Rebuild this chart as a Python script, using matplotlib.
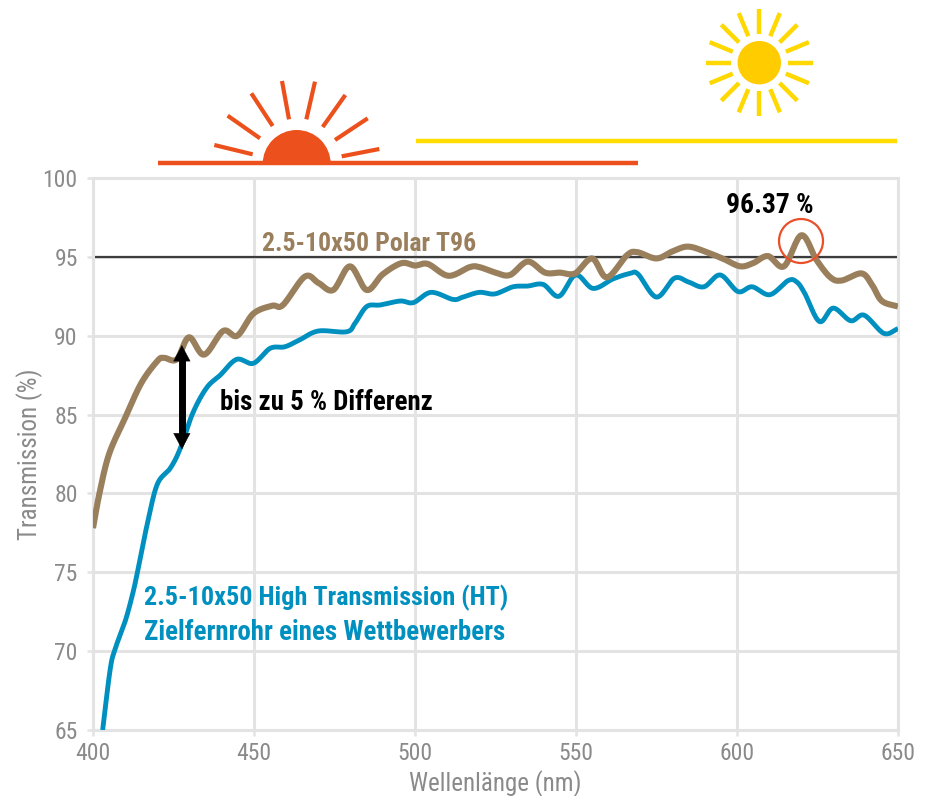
import numpy as np
import matplotlib
matplotlib.use("Agg")
import matplotlib.pyplot as plt
from matplotlib.patches import Circle, Wedge
from matplotlib import font_manager as fm

names = {f.name for f in fm.fontManager.ttflist}
FONT = next((n for n in ["Liberation Sans Narrow", "Roboto Condensed", "Open Sans Condensed", "Liberation Sans"] if n in names), "DejaVu Sans")
plt.rcParams["font.family"] = [FONT, "DejaVu Sans"]

polar_nm = [400,402,405,410,415,420,422,426,429.8,434.5,440.4,444.8,449.8,455.6,459,465.8,470,474.6,479.8,485,490,495.8,500,504,510.4,517,520,525,529.5,535,540.4,545,549.7,555,559.6,565.8,569,575,580,584.8,590.6,596,601,605,609.6,614.6,620,624.7,629,632.5,638.7,642,645,650]
polar_t = [77.8,80,82.5,84.8,87,88.4,88.6,88.5,89.9,88.8,90.3,90,91.4,91.9,91.95,93.75,93.35,92.9,94.4,92.9,93.9,94.6,94.45,94.55,93.8,94.35,94.35,94,93.85,94.7,94,94,93.95,94.9,93.7,95.1,95.3,94.9,95.35,95.65,95.3,94.85,94.4,94.6,95.05,94.4,96.37,94.8,93.7,93.5,93.95,93.2,92.2,91.85]

ht_nm = [403,405.3,406.8,410,412.4,414,417,420,424,427,431,435.3,439.5,444.6,449.8,455,459.6,464.3,470,478.8,481.4,485,489.2,495.4,499.5,505,511.8,514.9,520,524.8,530.4,535,539.8,544.7,549.9,555.3,561.5,566.8,569.3,575,580.6,585,589.7,594.8,600.3,604.7,610.2,615.9,618.6,621,625.6,629.9,635.3,639.5,645.6,650]
ht_t = [65,68.8,70.1,71.9,73.7,75.2,78.2,80.6,81.6,82.8,85.1,86.7,87.5,88.5,88.25,89.2,89.3,89.75,90.3,90.25,90.8,91.85,91.95,92.2,92.1,92.75,92.3,92.45,92.75,92.65,93.1,93.15,93.25,92.5,93.85,93,93.6,93.95,93.9,92.45,93.65,93.4,93.1,93.85,92.8,93.1,92.6,93.5,93.4,92.7,90.9,91.75,90.95,91.3,90.15,90.45]

x_ticks = [400,450,500,550,600,650]
y_ticks = [65,70,75,80,85,90,95,100]
peak_label = "96.37 %"
ref_level = 95
gap_nm, gap_top, gap_bottom = 427.6, 89.4, 82.8

W, H = 928, 796
BROWN, BLUE, ORANGE, YEL, SUNC = "#9a7f5c", "#0090c0", "#ec501c", "#ffdd00", "#ffcc00"
GRID, TXT = "#e3e3e3", "#8a8a8a"


def smooth(x, y, n=16):
    """Rounded stroke through the read points (Catmull-Rom, for the line's look only)."""
    x, y = np.asarray(x, float), np.asarray(y, float)
    px = np.r_[2*x[0]-x[1], x, 2*x[-1]-x[-2]]
    py = np.r_[2*y[0]-y[1], y, 2*y[-1]-y[-2]]
    t = np.linspace(0, 1, n, endpoint=False)[:, None]
    def cr(p):
        a, b, c, d = p[:-3], p[1:-2], p[2:-1], p[3:]
        return (0.5*(2*b + (c-a)*t + (2*a-5*b+4*c-d)*t**2 + (3*b-a-3*c+d)*t**3)).T.ravel()
    return np.r_[cr(px), x[-1]], np.r_[cr(py), y[-1]]


fig = plt.figure(figsize=(W/100, H/100), dpi=100)
ax = fig.add_axes([93/W, 1-730/H, (898-93)/W, (730-178)/H])
ax.set_xlim(400, 650)
ax.set_ylim(65, 100)
ax.set_xticks(x_ticks)
ax.set_yticks(y_ticks)
ax.grid(True, color=GRID, lw=2.2, zorder=0)
ax.set_axisbelow(True)
for s in ax.spines.values():
    s.set_color(GRID)
    s.set_linewidth(2.2)
ax.tick_params(length=4, width=1.8, color=GRID, labelcolor=TXT, labelsize=17, pad=3)
ax.tick_params(axis="y", pad=7)
ax.tick_params(axis="x", pad=5)
ax.set_xlabel("Wellenlänge (nm)", color=TXT, fontsize=18, labelpad=3)
ax.set_ylabel("Transmission (%)", color=TXT, fontsize=18, labelpad=0)

ax.axhline(ref_level, color="#3c3c3c", lw=1.6, zorder=2)
ax.plot(*smooth(ht_nm, ht_t), color=BLUE, lw=3.5, zorder=3, solid_capstyle="butt")
ax.plot(*smooth(polar_nm, polar_t), color=BROWN, lw=4.4, zorder=4, solid_capstyle="butt")

# double arrow: shaft plus two slim heads
ax.plot([gap_nm, gap_nm], [gap_bottom+0.5, gap_top-0.5], color="black", lw=5.0, zorder=6, solid_capstyle="butt")
ax.annotate("", xy=(gap_nm, gap_top), xytext=(gap_nm, gap_bottom), zorder=6,
            arrowprops=dict(arrowstyle="<|-|>,head_length=0.62,head_width=0.33", color="black",
                            lw=0.3, shrinkA=0, shrinkB=0, mutation_scale=18))

bold = dict(fontweight="bold", va="baseline", ha="left", zorder=7)
ax.text(452.5, 95.4, "2.5-10x50 Polar T96", color=BROWN, fontsize=18.6, **bold)
ax.text(596.6, 97.8, peak_label, color="black", fontsize=19.8, **bold)
ax.text(439.4, 85.3, "bis zu 5 % Differenz", color="black", fontsize=19.4, **bold)
ax.text(415.9, 72.9, "2.5-10x50 High Transmission (HT)", color=BLUE, fontsize=18.8, **bold)
ax.text(415.9, 70.7, "Zielfernrohr eines Wettbewerbers", color=BLUE, fontsize=19.35, **bold)

# Overlay in pixel coordinates for the sun pictograms and the peak ring
ov = fig.add_axes([0, 0, 1, 1], facecolor="none")
ov.set_xlim(0, W)
ov.set_ylim(H, 0)
ov.axis("off")
ov.add_patch(Circle((801, 241), 22, fill=False, ec="#e9502a", lw=1.6))

ov.plot([158, 638], [163, 163], color=ORANGE, lw=3.2, solid_capstyle="butt")
ov.add_patch(Wedge((296.7, 164), 34, 180, 360, color=ORANGE, lw=0))
rays = [(193,435,308,463),(233,347,330,415),(304,280,368,378),(396,243,417,358),
        (495,245,469,358),(586,285,518,381),(653,355,555,420),(688,447,575,469)]
for a, b, c, d in rays:
    ov.plot([150+a/3, 150+c/3], [b/3, d/3], color=ORANGE, lw=3.0, solid_capstyle="butt")

ov.plot([416, 897], [141, 141], color=YEL, lw=3.2, solid_capstyle="butt")
cx, cy = 759.3, 62.7
ov.add_patch(Circle((cx, cy), 21.7, color=SUNC, lw=0))
for ang in np.arange(0, 360, 22.5):
    r = np.radians(ang)
    ov.plot([cx+28.7*np.cos(r), cx+53.7*np.cos(r)], [cy+28.7*np.sin(r), cy+53.7*np.sin(r)],
            color="#ffd800", lw=3.2, solid_capstyle="butt")

fig.savefig("out.png", dpi=100)
